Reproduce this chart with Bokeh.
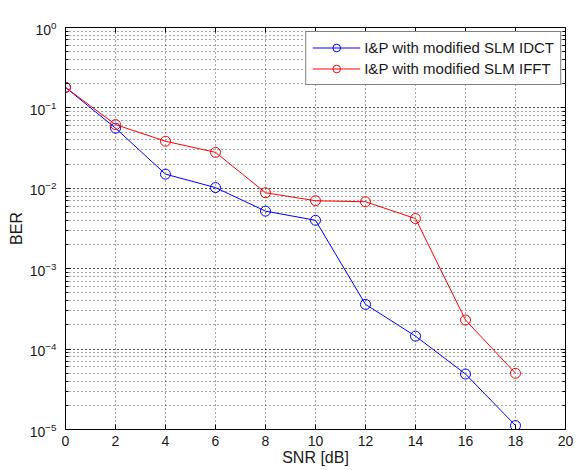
from bokeh.plotting import figure
from bokeh.models import (Range1d, SingleIntervalTicker, LogTicker, LinearAxis,
                          Legend, LegendItem, CustomJSTickFormatter)
from bokeh.embed import file_html
from bokeh.resources import INLINE

snr = [0, 2, 4, 6, 8, 10, 12, 14, 16, 18]
ber_idct = [0.18, 0.056, 0.0150, 0.0102, 0.0052, 0.0040, 3.6e-4, 1.45e-4, 4.9e-5, 1.12e-5]
ber_ifft = [0.18, 0.062, 0.0385, 0.0280, 0.0088, 0.0070, 0.0068, 0.0042, 2.3e-4, 5.0e-5]
labels = ["I&P with modified SLM IDCT", "I&P with modified SLM IFFT"]
colors = ["#0000ff", "#ff0000"]

FONT = "Liberation Sans"
TXT = "#1a1a1a"

p = figure(frame_width=500, frame_height=402, y_axis_type="log",
           x_range=Range1d(0, 20), y_range=Range1d(1e-5, 1),
           output_backend="svg", toolbar_location=None,
           min_border_left=65, min_border_right=11, min_border_top=27, min_border_bottom=40)
p.outline_line_color = "black"
p.outline_line_width = 1

xt = SingleIntervalTicker(interval=2, num_minor_ticks=0)
p.xaxis.ticker = xt
yt = LogTicker(num_minor_ticks=10)
p.yaxis.ticker = yt

for ax in [p.xaxis[0], p.yaxis[0]]:
    ax.major_tick_in = 5
    ax.major_tick_out = 0
    ax.minor_tick_in = 3
    ax.minor_tick_out = 0
    ax.axis_line_color = "black"
    ax.major_label_text_font = FONT
    ax.major_label_text_font_size = "14px"
    ax.major_label_text_color = TXT
    ax.axis_label_text_font = FONT
    ax.axis_label_text_font_size = "16px"
    ax.axis_label_text_font_style = "normal"
    ax.axis_label_text_color = TXT
p.xaxis.axis_label = "SNR [dB]"
p.xaxis.axis_label_standoff = 0
p.xaxis.major_label_standoff = 6
p.yaxis.axis_label = "BER"
p.yaxis.axis_label_standoff = 2
p.yaxis.major_label_standoff = 9

blank = CustomJSTickFormatter(code="return ''")
top = LinearAxis(ticker=SingleIntervalTicker(interval=2, num_minor_ticks=0),
                 formatter=blank, major_tick_in=5, major_tick_out=0,
                 major_label_standoff=0)
right = LinearAxis(ticker=LogTicker(num_minor_ticks=10), formatter=blank,
                   major_tick_in=5, major_tick_out=0, minor_tick_in=3, minor_tick_out=0,
                   major_label_standoff=0)
p.add_layout(top, "above")
p.add_layout(right, "right")

p.xgrid.ticker = xt
p.xgrid.grid_line_color = "#222222"
p.xgrid.grid_line_dash = "1 3"
p.xgrid.grid_line_alpha = 0.8
p.ygrid.grid_line_color = "#222222"
p.ygrid.grid_line_dash = "1 3"
p.ygrid.grid_line_alpha = 0.8
p.ygrid.minor_grid_line_color = "#222222"
p.ygrid.minor_grid_line_dash = "1 3"
p.ygrid.minor_grid_line_alpha = 0.8

items = []
for ys, c, lab in zip([ber_idct, ber_ifft], colors, labels):
    l = p.line(snr, ys, line_color=c, line_width=1)
    s = p.scatter(snr, ys, size=10, line_color=c, fill_color=None, line_width=1)
    items.append(LegendItem(label=lab, renderers=[l, s]))

leg = Legend(items=items, location="top_right")
leg.margin = 4
leg.border_line_color = "black"
leg.border_line_width = 1
leg.background_fill_alpha = 1
leg.label_text_font = FONT
leg.label_text_font_size = "15px"
leg.label_text_color = TXT
leg.glyph_width = 48
leg.glyph_height = 19
leg.label_standoff = 4
leg.spacing = 2
leg.padding = 6
p.add_layout(leg)

open("out.html", "w").write(file_html(p, INLINE))
